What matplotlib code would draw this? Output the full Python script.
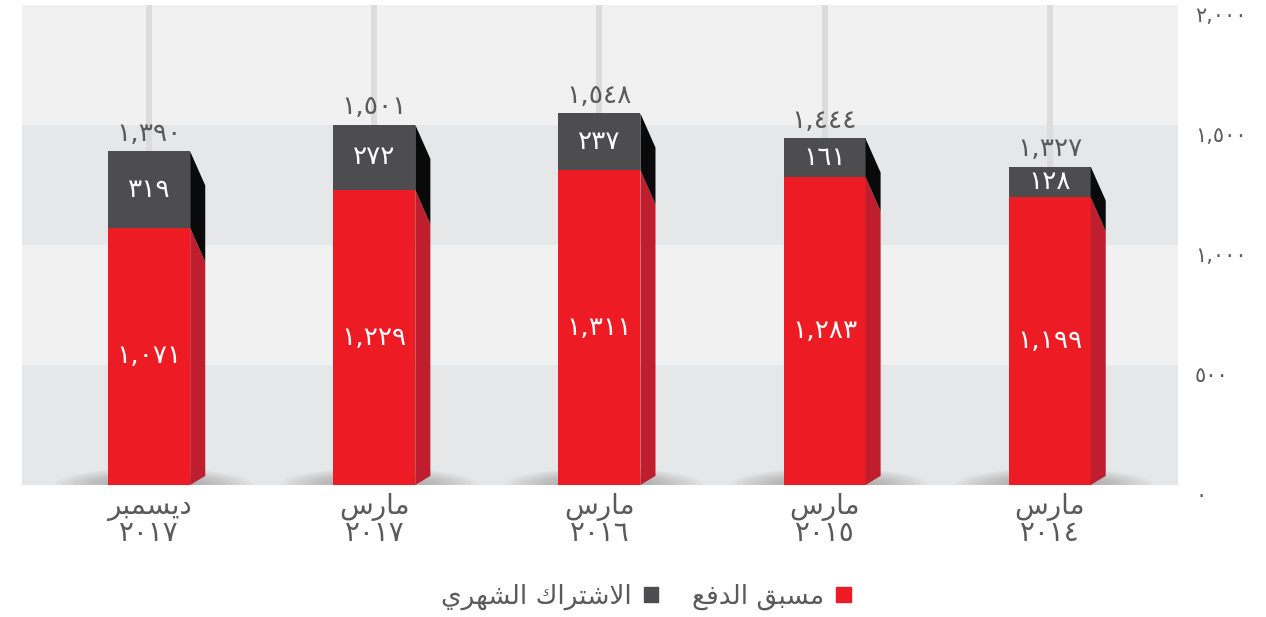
import matplotlib
matplotlib.use("Agg")
import matplotlib.pyplot as plt
from matplotlib.patches import Polygon, Ellipse, Patch

# ---------------- data ----------------
months = ["ديسمبر", "مارس", "مارس", "مارس", "مارس"]
years = ["2017", "2017", "2016", "2015", "2014"]
prepaid = [1071, 1229, 1311, 1283, 1199]
monthly = [319, 272, 237, 161, 128]
yticks = [0, 500, 1000, 1500, 2000]
legend_prepaid = "مسبق الدفع"
legend_monthly = "الاشتراك الشهري"

RED = "#ED1C24"
RED_SIDE = "#BE1E2D"
GRAY = "#4D4D4F"
GRAY_SIDE = "#0A0A0A"
BAND_DARK = "#E6E7E8"
BAND_LIGHT = "#F1F1F1"
TXT = "#5A5A5A"

plt.rcParams["font.family"] = ["DejaVu Sans"]

# -------- minimal Arabic shaping (presentation forms) --------
FORMS = {
    "ا": (0xFE8D, 0xFE8E, None, None),
    "ب": (0xFE8F, 0xFE90, 0xFE91, 0xFE92),
    "ت": (0xFE95, 0xFE96, 0xFE97, 0xFE98),
    "د": (0xFEA9, 0xFEAA, None, None),
    "ر": (0xFEAD, 0xFEAE, None, None),
    "س": (0xFEB1, 0xFEB2, 0xFEB3, 0xFEB4),
    "ش": (0xFEB5, 0xFEB6, 0xFEB7, 0xFEB8),
    "ع": (0xFEC9, 0xFECA, 0xFECB, 0xFECC),
    "ف": (0xFED1, 0xFED2, 0xFED3, 0xFED4),
    "ق": (0xFED5, 0xFED6, 0xFED7, 0xFED8),
    "ك": (0xFED9, 0xFEDA, 0xFEDB, 0xFEDC),
    "ل": (0xFEDD, 0xFEDE, 0xFEDF, 0xFEE0),
    "م": (0xFEE1, 0xFEE2, 0xFEE3, 0xFEE4),
    "ه": (0xFEE9, 0xFEEA, 0xFEEB, 0xFEEC),
    "ي": (0xFEF1, 0xFEF2, 0xFEF3, 0xFEF4),
    "LA": (0xFEFB, 0xFEFC, None, None),
}


def shape(text):
    toks = []
    i = 0
    while i < len(text):
        if text[i] == "ل" and i + 1 < len(text) and text[i + 1] == "ا":
            toks.append("LA")
            i += 2
        else:
            toks.append(text[i])
            i += 1
    out = []
    for k, t in enumerate(toks):
        if t not in FORMS:
            out.append(t)
            continue
        iso, fin, ini, med = FORMS[t]
        prev = toks[k - 1] if k > 0 else None
        nxt = toks[k + 1] if k + 1 < len(toks) else None
        jp = prev in FORMS and FORMS[prev][2] is not None
        jn = ini is not None and nxt in FORMS
        if jp and jn:
            c = med
        elif jp:
            c = fin
        elif jn:
            c = ini
        else:
            c = iso
        out.append(chr(c))
    return "".join(reversed(out))


AR_DIG = str.maketrans("0123456789", "٠١٢٣٤٥٦٧٨٩")


def ar_num(v):
    return f"{v:,}".translate(AR_DIG)


# ---------------- figure ----------------
W, H = 1266, 617
fig = plt.figure(figsize=(W / 100, H / 100), dpi=100)
ax = fig.add_axes([22 / W, 132 / H, 1156 / W, 480 / H])
ax.set_xlim(-0.565, 4.57)
ax.set_ylim(yticks[0], yticks[-1])

# background bands
for j in range(len(yticks) - 1):
    ax.axhspan(yticks[j], yticks[j + 1],
               color=BAND_DARK if j % 2 == 0 else BAND_LIGHT, lw=0, zorder=0)

x = list(range(len(prepaid)))
totals = [a + b for a, b in zip(prepaid, monthly)]

# vertical grid lines at bar centres
ax.vlines(x, yticks[0], yticks[-1], color="#DCDCDC", lw=4.3, zorder=1)

# soft shadows at the bar bases
for xi in x:
    n = 16
    for k in range(n):
        f = 1 - k / n
        ax.add_patch(Ellipse((xi + 0.02, 0), 0.88 * f, 140 * f,
                             color="#6A6A6A", alpha=0.05, lw=0, zorder=2))

bw = 0.364
ax.bar(x, prepaid, width=bw, color=RED, zorder=3, lw=0)
ax.bar(x, monthly, width=bw, bottom=prepaid, color=GRAY, zorder=3, lw=0)

# right side faces (pseudo 3D)
dx = 0.067
drop = 142
rise = 38
for xi, p, t in zip(x, prepaid, totals):
    xr = xi + bw / 2
    ax.add_patch(Polygon([(xr, 0), (xr + dx, rise), (xr + dx, p - drop), (xr, p)],
                         closed=True, color=RED_SIDE, lw=0, zorder=3))
    ax.add_patch(Polygon([(xr, p), (xr + dx, p - drop), (xr + dx, t - drop), (xr, t)],
                         closed=True, color=GRAY_SIDE, lw=0, zorder=3))

# value labels
for xi, p, m, t in zip(x, prepaid, monthly, totals):
    ax.text(xi, p / 2, ar_num(p), ha="center", va="center",
            color="white", fontsize=19, zorder=5)
    ax.text(xi, p + m / 2, ar_num(m), ha="center", va="center",
            color="white", fontsize=19, zorder=5)
    ax.text(xi, t + 72, ar_num(t), ha="center", va="center",
            color=TXT, fontsize=19, zorder=5)

# x category labels
ax.set_xticks(x)
ax.set_xticklabels([shape(mo) + "\n" + y.translate(AR_DIG) for mo, y in zip(months, years)],
                   fontsize=20, color=TXT, linespacing=0.9)
ax.tick_params(axis="x", length=0, pad=6)

# y tick labels on the right
ax.set_yticks([])
for v in yticks:
    ax.text(1.0 + 17 / 1156, v - 5, ar_num(v), transform=ax.get_yaxis_transform(),
            ha="left", va="top", color=TXT, fontsize=15)

for s in ax.spines.values():
    s.set_visible(False)

handles = [Patch(color=GRAY, label=shape(legend_monthly)),
           Patch(color=RED, label=shape(legend_prepaid))]
leg = fig.legend(handles=handles, loc="center", bbox_to_anchor=(646 / W, 1 - 597 / H),
                 ncol=2, frameon=False, markerfirst=False, fontsize=19,
                 handlelength=0.55, handleheight=0.55, columnspacing=1.3,
                 handletextpad=0.45, labelcolor=TXT)

fig.savefig("out.png", dpi=100)
